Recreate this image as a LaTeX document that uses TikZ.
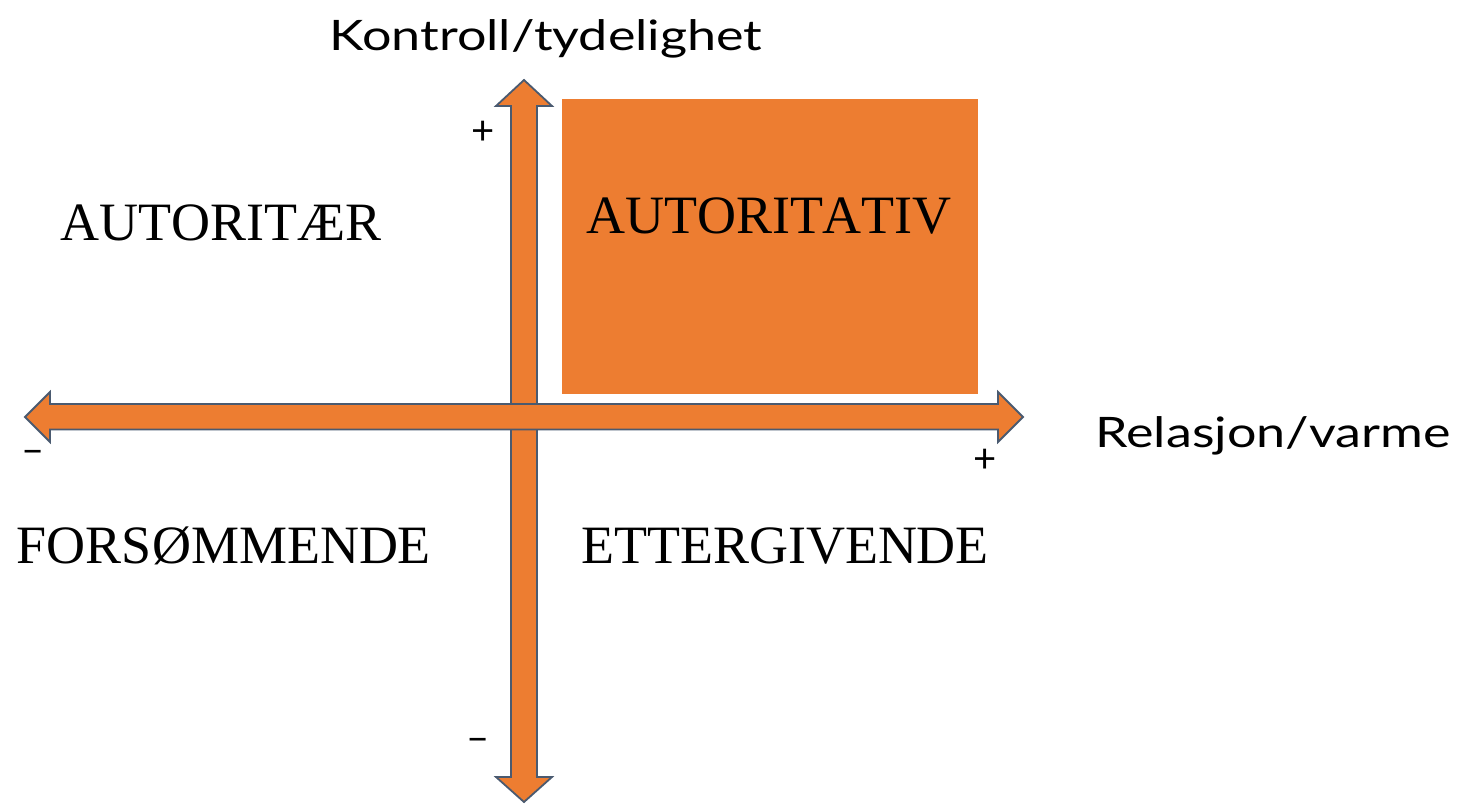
\documentclass[tikz,border=0pt]{standalone}
\usepackage{fontspec}
\newfontfamily\labelfont[FakeStretch=1.24]{Lato}
\newfontfamily\signfont{Lato}
\newfontfamily\quadfont[Kerning=Off]{Liberation Serif}
\definecolor{orng}{HTML}{ED7D31}
\definecolor{edgecol}{HTML}{4A5A70}
\begin{document}
\begin{tikzpicture}[x=1pt,y=-1pt,
  arrowshape/.style={fill=orng, draw=edgecol, line width=1.8pt, line join=miter},
  quad/.style={font=\quadfont\fontsize{54}{60}\selectfont, anchor=base, inner sep=0pt},
  axislabel/.style={font=\labelfont\fontsize{42}{50}\selectfont, anchor=base, inner sep=0pt},
  sign/.style={font=\signfont\fontsize{40}{48}\selectfont, inner sep=0pt}]
\useasboundingbox (0,0) rectangle (1458,803);
% vertical axis
\draw[arrowshape] (524,80) -- (552,106) -- (537,106) -- (537,777) -- (552,777) -- (524,802)
  -- (496,777) -- (511,777) -- (511,106) -- (496,106) -- cycle;
% horizontal axis
\draw[arrowshape] (25,417) -- (50,392) -- (50,404) -- (998,404) -- (998,392) -- (1023,417)
  -- (998,442) -- (998,429.5) -- (50,429.5) -- (50,442) -- cycle;
% highlighted quadrant
\fill[orng] (562,99) rectangle (978,394);
% quadrant labels
\node[quad] (autoritativ) at (769,233) {AUTORITATIV};
\node[quad] (autoritaer) at (221,240) {AUTORITÆR};
\node[quad] (forsommende) at (224,563) {FORSØMMENDE};
\node[quad] (ettergivende) at (785,563) {ETTERGIVENDE};
% axis labels
\node[axislabel] (kontroll) at (546,50) {Kontroll/tydelighet};
\node[axislabel] (relasjon) at (1273,447) {Relasjon/varme};
% signs
\node[sign] (yplus) at (483,133) {+};
\node[sign] (yminus) at (478,745) {–};
\node[sign] (xminus) at (33,457) {–};
\node[sign] (xplus) at (985,461) {+};
\end{tikzpicture}
\end{document}
